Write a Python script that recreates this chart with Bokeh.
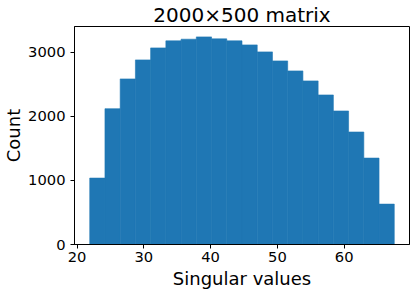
import numpy as np
from bokeh.plotting import figure
from bokeh.models import FixedTicker, Range1d
from bokeh.embed import file_html
from bokeh.resources import INLINE

# Histogram data
bin_start = 21.9
bin_end = 67.5
counts = [1036, 2119, 2583, 2880, 3067, 3177, 3203, 3239, 3208, 3177,
          3114, 3005, 2864, 2708, 2552, 2333, 2083, 1755, 1348, 630]
x_ticks = [20, 30, 40, 50, 60]
y_ticks = [0, 1000, 2000, 3000]
title_text = "2000×500 matrix"
x_label = "Singular values"
y_label = "Count"

edges = np.linspace(bin_start, bin_end, len(counts) + 1)
span = bin_end - bin_start
ymax = max(counts) * 1.05

FONT = "DejaVu Sans"

p = figure(frame_width=335, frame_height=218, output_backend="svg", toolbar_location=None,
           x_range=Range1d(bin_start - 0.05 * span, bin_end + 0.05 * span),
           y_range=Range1d(0, ymax),
           min_border_left=69, min_border_right=6, min_border_top=19,
           min_border_bottom=51, title=title_text)

p.quad(left=edges[:-1], right=edges[1:], bottom=0, top=counts,
       fill_color="#1f77b4", line_color="#1f77b4", line_width=0.6)

p.title.text_font = FONT
p.title.text_font_size = "20px"
p.title.text_font_style = "normal"
p.title.align = "center"
p.title.standoff = 0
p.title.text_color = "black"

p.xgrid.visible = False
p.ygrid.visible = False
p.outline_line_color = "black"
p.outline_line_width = 1
p.outline_line_alpha = 1
p.background_fill_color = "white"
p.border_fill_color = "white"

p.xaxis.ticker = FixedTicker(ticks=x_ticks)
p.yaxis.ticker = FixedTicker(ticks=y_ticks)
p.xaxis.axis_label = x_label
p.yaxis.axis_label = y_label

for ax in (p.xaxis[0], p.yaxis[0]):
    ax.axis_line_color = "black"
    ax.major_tick_line_color = "black"
    ax.major_tick_out = 4
    ax.major_tick_in = 0
    ax.minor_tick_line_color = None
    ax.major_label_text_font = FONT
    ax.major_label_text_font_size = "14.7px"
    ax.major_label_text_color = "black"
    ax.axis_label_text_font = FONT
    ax.axis_label_text_font_size = "18px"
    ax.axis_label_text_font_style = "normal"
    ax.axis_label_text_color = "black"

p.xaxis.axis_label_standoff = 3
p.yaxis.axis_label_standoff = 1
p.xaxis.major_label_standoff = 3
p.yaxis.major_label_standoff = 5
p.yaxis.major_label_orientation = "horizontal"

open("out.html", "w").write(file_html(p, INLINE))
